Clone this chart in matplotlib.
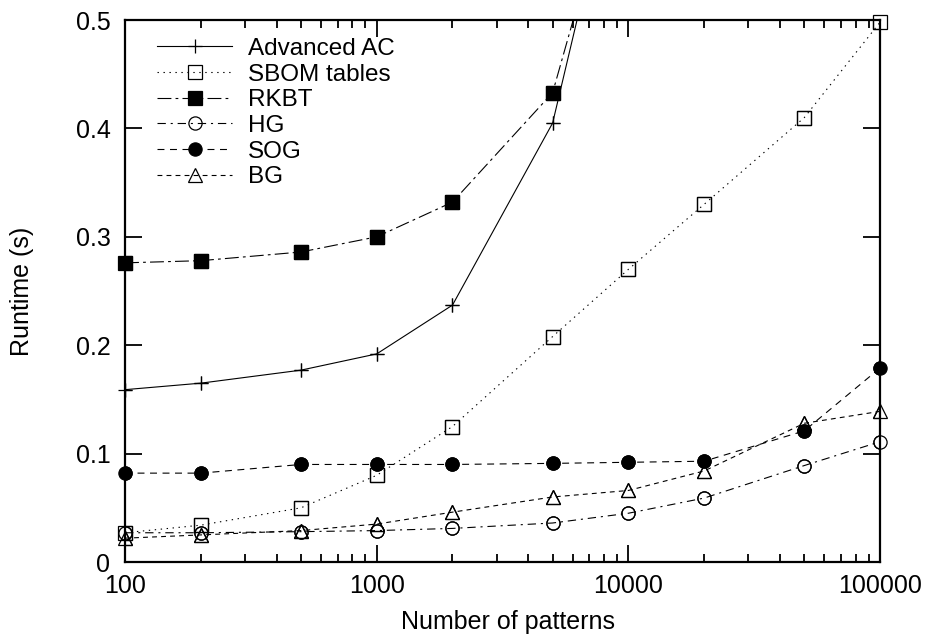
import matplotlib
matplotlib.use("Agg")
import matplotlib.pyplot as plt
from matplotlib.ticker import FixedLocator, LogLocator, NullFormatter
import numpy as np

plt.rcParams['font.family'] = ['Liberation Sans', 'DejaVu Sans']
plt.rcParams['lines.scale_dashes'] = False

# data
patterns = [100, 200, 500, 1000, 2000, 5000, 10000, 20000, 50000, 100000]
adv_ac = [0.159, 0.165, 0.177, 0.192, 0.237, 0.405, 0.70]
sbom = [0.027, 0.034, 0.050, 0.080, 0.125, 0.208, 0.270, 0.330, 0.410, 0.498]
rkbt = [0.276, 0.278, 0.286, 0.300, 0.332, 0.433, 0.68]
hg = [0.027, 0.027, 0.028, 0.029, 0.031, 0.036, 0.045, 0.059, 0.089, 0.111]
sog = [0.082, 0.082, 0.090, 0.090, 0.090, 0.091, 0.092, 0.093, 0.121, 0.179]
bg = [0.022, 0.025, 0.029, 0.035, 0.046, 0.060, 0.066, 0.084, 0.128, 0.139]

x_ticks = [100, 1000, 10000, 100000]
x_labels = ["100", "1000", "10000", "100000"]
y_ticks = [0, 0.1, 0.2, 0.3, 0.4, 0.5]
y_labels = ["0", "0.1", "0.2", "0.3", "0.4", "0.5"]

series = [
    ("Advanced AC", adv_ac, dict(ls='-', marker='+', ms=9.5, mfc='none')),
    ("SBOM tables", sbom, dict(ls=(0, (1, 3.3)), marker='s', ms=10, mfc='none')),
    ("RKBT", rkbt, dict(ls=(0, (10, 3, 2, 3)), marker='s', ms=9.5, mfc='black')),
    ("HG", hg, dict(ls=(0, (6, 3.5, 1.5, 3.5)), marker='o', ms=9.5, mfc='none')),
    ("SOG", sog, dict(ls=(0, (5, 4)), marker='o', ms=9.5, mfc='black')),
    ("BG", bg, dict(ls=(0, (3.5, 3)), marker='^', ms=10, mfc='none')),
]

fig = plt.figure(figsize=(9.31, 6.44), dpi=100)
ax = fig.add_axes([0.1343, 0.1273, 0.811, 0.8416])

for label, vals, st in series:
    xs = patterns[:len(vals)]
    ax.plot(xs, vals, color='black', lw=0.8, mew=0.9, label=label, **st)
    # markers sitting on the frame are drawn in full
    keep = [i for i, v in enumerate(vals) if v <= 0.5]
    mst = dict(st)
    mst['ls'] = 'none'
    ax.plot([xs[i] for i in keep], [vals[i] for i in keep], color='black',
            mew=0.9, clip_on=False, zorder=3, **mst)

ax.set_xscale('log')
ax.set_xlim(100, 100000)
ax.set_ylim(0, 0.5)
ax.xaxis.set_major_locator(FixedLocator(x_ticks))
ax.set_xticklabels(x_labels)
ax.xaxis.set_minor_locator(LogLocator(base=10, subs=np.arange(2, 10)))
ax.xaxis.set_minor_formatter(NullFormatter())
ax.set_yticks(y_ticks)
ax.set_yticklabels(y_labels)

ax.tick_params(which='both', direction='in', top=True, right=True,
               labelsize=18, width=1.3)
ax.tick_params(axis='x', pad=8.5)
ax.tick_params(axis='y', pad=10.5)
ax.tick_params(which='major', length=12)
ax.tick_params(which='minor', length=6)
for sp in ax.spines.values():
    sp.set_linewidth(1.6)

ax.set_xlabel("Number of patterns", fontsize=18)
ax.xaxis.set_label_coords(0.507, -0.089)
ax.set_ylabel("Runtime (s)", fontsize=18)
ax.yaxis.set_label_coords(-0.121, 0.5)

ax.legend(loc='upper left', bbox_to_anchor=(0.0424, 0.967), frameon=False,
          fontsize=17.5, handlelength=3.09, handletextpad=0.66,
          labelspacing=0.15, borderaxespad=0, borderpad=0)

fig.savefig("out.png", dpi=100)
